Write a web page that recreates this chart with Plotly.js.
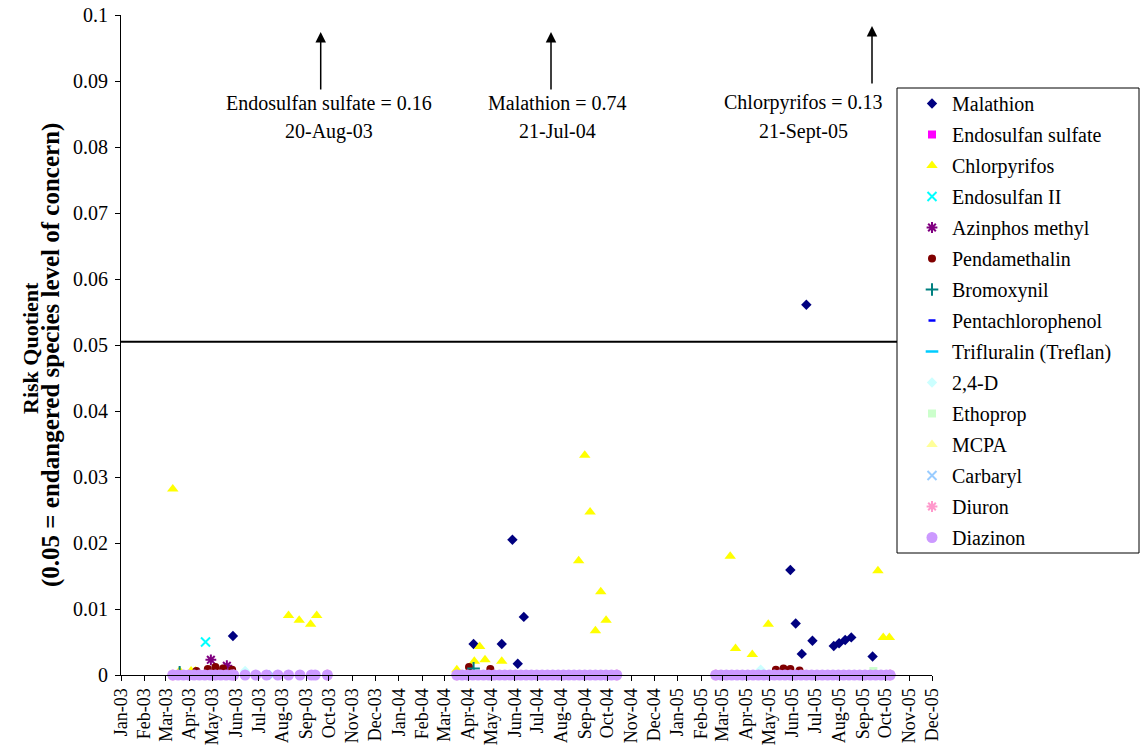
<!DOCTYPE html>
<html>
<head>
<meta charset="utf-8">
<script src="https://cdn.plot.ly/plotly-3.0.1.min.js"></script>
<style>html,body{margin:0;padding:0;background:#fff}#chart{width:1140px;height:752px}</style>
</head>
<body>
<div id="chart"></div>
<script>
// ---------- DATA ----------
const monthTicks = ['2003-01-01','2003-02-01','2003-03-01','2003-04-01','2003-05-01','2003-06-01','2003-07-01','2003-08-01','2003-09-01','2003-10-01','2003-11-01','2003-12-01',
  '2004-01-01','2004-02-01','2004-03-01','2004-04-01','2004-05-01','2004-06-01','2004-07-01','2004-08-01','2004-09-01','2004-10-01','2004-11-01','2004-12-01',
  '2005-01-01','2005-02-01','2005-03-01','2005-04-01','2005-05-01','2005-06-01','2005-07-01','2005-08-01','2005-09-01','2005-10-01','2005-11-01','2005-12-01'];
const monthLabels = ['Jan-03','Feb-03','Mar-03','Apr-03','May-03','Jun-03','Jul-03','Aug-03','Sep-03','Oct-03','Nov-03','Dec-03',
  'Jan-04','Feb-04','Mar-04','Apr-04','May-04','Jun-04','Jul-04','Aug-04','Sep-04','Oct-04','Nov-04','Dec-04',
  'Jan-05','Feb-05','Mar-05','Apr-05','May-05','Jun-05','Jul-05','Aug-05','Sep-05','Oct-05','Nov-05','Dec-05'];

const malathionDates = ['2003-05-28','2004-04-08','2004-05-15','2004-05-29','2004-06-05','2004-06-13',
  '2005-05-29','2005-06-05','2005-06-13','2005-06-19','2005-06-27','2005-07-25','2005-08-01','2005-08-09','2005-08-17','2005-09-14'];
const malathionRQ = [0.0059,0.0047,0.0047,0.0205,0.0017,0.0088,
  0.0159,0.0078,0.0032,0.0561,0.0052,0.0044,0.0048,0.0053,0.0057,0.0028];

const endosulfanSulfateDates = ['2003-05-05','2004-05-05','2005-05-05'];
const endosulfanSulfateRQ = [0,0,0];

const chlorpyrifosDates = ['2003-03-10','2003-03-19','2003-04-03','2003-04-09','2003-08-09','2003-08-23','2003-09-07','2003-09-15',
  '2004-03-17','2004-04-09','2004-04-16','2004-04-23','2004-05-15','2004-08-24','2004-09-01','2004-09-08','2004-09-15','2004-09-22','2004-09-29',
  '2005-03-11','2005-03-18','2005-04-09','2005-04-30','2005-09-21','2005-09-28','2005-10-06'];
const chlorpyrifosRQ = [0.0282,0.0006,0.0006,0.0006,0.0090,0.0083,0.0077,0.0090,
  0.0008,0.0021,0.0043,0.0023,0.0021,0.0173,0.0333,0.0247,0.0067,0.0126,0.0083,
  0.0180,0.0040,0.0031,0.0077,0.0158,0.0057,0.0057];

const endosulfanIIDates = ['2003-04-22'];
const endosulfanIIRQ = [0.0050];

const azinphosDates = ['2003-04-29','2003-05-20'];
const azinphosRQ = [0.0023,0.0014];

const pendamethalinDates = ['2003-04-10','2003-04-25','2003-05-05','2003-05-15','2003-05-27','2004-04-02','2004-04-30',
  '2005-05-10','2005-05-20','2005-05-29','2005-06-10'];
const pendamethalinRQ = [0.0006,0.0009,0.0012,0.0010,0.0008,0.0012,0.0009,0.0008,0.0010,0.0009,0.0007];

const bromoxynilDates = ['2003-03-19','2004-04-08'];
const bromoxynilRQ = [0.0004,0.0010];

const pentachlorophenolDates = ['2004-06-10'];
const pentachlorophenolRQ = [0];

const trifluralinDates = ['2005-06-10'];
const trifluralinRQ = [0];

const d24Dates = ['2003-06-13','2005-04-20'];
const d24RQ = [0.0006,0.0008];

const ethopropDates = ['2005-09-15'];
const ethopropRQ = [0.0006];

const mcpaDates = ['2004-05-20'];
const mcpaRQ = [0];

const carbarylDates = ['2003-07-20'];
const carbarylRQ = [0];

const diuronDates = ['2003-03-10','2003-05-29','2003-09-29','2004-03-17','2004-10-13','2005-02-20','2005-10-07'];
const diuronRQ = [0,0,0,0,0,0,0];

const diazinonDates = ['2003-03-10','2003-03-17','2003-03-24','2003-03-31','2003-04-07','2003-04-14','2003-04-21','2003-04-28','2003-05-05','2003-05-12','2003-05-19','2003-05-26','2003-05-29',
  '2003-06-13','2003-06-27','2003-07-11','2003-07-26','2003-08-09','2003-08-24','2003-09-08','2003-09-13','2003-09-29',
  '2004-03-17','2004-03-24','2004-03-31','2004-04-07','2004-04-14','2004-04-21','2004-04-28','2004-05-05','2004-05-12','2004-05-19','2004-05-26','2004-06-02','2004-06-09','2004-06-16','2004-06-23','2004-06-30',
  '2004-07-07','2004-07-14','2004-07-21','2004-07-28','2004-08-04','2004-08-11','2004-08-18','2004-08-25','2004-09-01','2004-09-08','2004-09-15','2004-09-22','2004-09-29','2004-10-06','2004-10-13',
  '2005-02-20','2005-02-27','2005-03-06','2005-03-13','2005-03-20','2005-03-27','2005-04-03','2005-04-10','2005-04-17','2005-04-24','2005-05-01','2005-05-08','2005-05-15','2005-05-22','2005-05-29',
  '2005-06-05','2005-06-12','2005-06-19','2005-06-26','2005-07-03','2005-07-10','2005-07-17','2005-07-24','2005-07-31','2005-08-07','2005-08-14','2005-08-21','2005-08-28','2005-09-04','2005-09-11','2005-09-18','2005-09-25','2005-10-02','2005-10-07'];
const diazinonRQ = diazinonDates.map(() => 0);

const concernLevel = 0.0505;
const yTitleLines = ['Risk Quotient', '(0.05 = endangered species level of concern)'];
const offScaleNotes = [
  {line1: 'Endosulfan sulfate = 0.16', line2: '20-Aug-03'},
  {line1: 'Malathion = 0.74', line2: '21-Jul-04'},
  {line1: 'Chlorpyrifos = 0.13', line2: '21-Sept-05'}
];

// ---------- CHART ----------
const FONT = 'Liberation Serif';
function tr(name, x, y, marker) {
  return {type: 'scatter', mode: 'markers', name: name, x: x, y: y, marker: marker,
          cliponaxis: false, legendgroup: name, hoverinfo: 'x+y+name'};
}
const traces = [
  tr('Malathion', malathionDates, malathionRQ, {symbol: 'diamond', color: '#000080', size: 8}),
  tr('Endosulfan sulfate', endosulfanSulfateDates, endosulfanSulfateRQ, {symbol: 'square', color: '#FF00FF', size: 8}),
  tr('Chlorpyrifos', chlorpyrifosDates, chlorpyrifosRQ, {symbol: 'triangle-up', color: '#FFFF00', size: 10}),
  tr('Endosulfan II', endosulfanIIDates, endosulfanIIRQ, {symbol: 'x-thin-open', color: '#00FFFF', size: 9, line: {color: '#00FFFF', width: 2}}),
  tr('Azinphos methyl', azinphosDates, azinphosRQ, {symbol: 'asterisk-open', color: '#800080', size: 9, line: {color: '#800080', width: 2}}),
  tr('Pendamethalin', pendamethalinDates, pendamethalinRQ, {symbol: 'circle', color: '#800000', size: 8}),
  tr('Bromoxynil', bromoxynilDates, bromoxynilRQ, {symbol: 'cross-thin-open', color: '#008080', size: 9, line: {color: '#008080', width: 2}}),
  tr('Pentachlorophenol', pentachlorophenolDates, pentachlorophenolRQ, {symbol: 'line-ew-open', color: '#0000FF', size: 5, line: {color: '#0000FF', width: 2.5}}),
  tr('Trifluralin (Treflan)', trifluralinDates, trifluralinRQ, {symbol: 'line-ew-open', color: '#00CCFF', size: 9, line: {color: '#00CCFF', width: 2.5}}),
  tr('2,4-D', d24Dates, d24RQ, {symbol: 'diamond', color: '#CCFFFF', size: 8}),
  tr('Ethoprop', ethopropDates, ethopropRQ, {symbol: 'square', color: '#CCFFCC', size: 8}),
  tr('MCPA', mcpaDates, mcpaRQ, {symbol: 'triangle-up', color: '#FFFF99', size: 10}),
  tr('Carbaryl', carbarylDates, carbarylRQ, {symbol: 'x-thin-open', color: '#99CCFF', size: 9, line: {color: '#99CCFF', width: 2}}),
  tr('Diuron', diuronDates, diuronRQ, {symbol: 'asterisk-open', color: '#FF99CC', size: 9, line: {color: '#FF99CC', width: 2}}),
  tr('Diazinon', diazinonDates, diazinonRQ, {symbol: 'circle', color: '#CC99FF', size: 11})
];

const W = 1140, H = 752, L = 121, R = 208, T = 15, B = 77;
const pw = W - L - R, ph = H - T - B;
const px = v => (v - L) / pw;
const py = v => (H - B - v) / ph;

const arrowX = [320.7, 551, 872];
const arrowTip = [32, 32, 26];
const noteX = [329, 557, 803.5];
const annotations = [];
offScaleNotes.forEach((n, i) => {
  annotations.push({xref: 'paper', yref: 'paper', x: px(arrowX[i]), y: py(arrowTip[i]), text: '',
    showarrow: true, arrowhead: 2, arrowsize: 1.4, arrowwidth: 1.5, arrowcolor: '#000', ax: 0, ay: 59});
  annotations.push({xref: 'paper', yref: 'paper', x: px(noteX[i]), y: py(103), text: n.line1, showarrow: false,
    font: {family: FONT, size: 20, color: '#000'}, xanchor: 'center', yanchor: 'middle'});
  annotations.push({xref: 'paper', yref: 'paper', x: px(noteX[i]), y: py(131), text: n.line2, showarrow: false,
    font: {family: FONT, size: 20, color: '#000'}, xanchor: 'center', yanchor: 'middle'});
});
// y-axis title, two lines
annotations.push({xref: 'paper', yref: 'paper', x: px(30), y: py(348), text: yTitleLines[0], textangle: -90, showarrow: false,
  font: {family: FONT, size: 22, color: '#000', weight: 'bold'}, xanchor: 'center', yanchor: 'middle'});
annotations.push({xref: 'paper', yref: 'paper', x: px(51), y: py(355), text: yTitleLines[1], textangle: -90, showarrow: false,
  font: {family: FONT, size: 25, color: '#000', weight: 'bold'}, xanchor: 'center', yanchor: 'middle'});

const layout = {
  width: W, height: H,
  margin: {l: L, r: R, t: T, b: B},
  paper_bgcolor: '#fff', plot_bgcolor: '#fff',
  font: {family: FONT, color: '#000', size: 20},
  showlegend: true,
  legend: {x: px(912), y: py(84), xanchor: 'left', yanchor: 'top', bgcolor: 'rgba(0,0,0,0)', borderwidth: 0,
    font: {family: FONT, size: 20, color: '#000'}, traceorder: 'grouped', tracegroupgap: 2},
  xaxis: {type: 'date', range: ['2003-01-01', '2005-12-01'], tickvals: monthTicks, ticktext: monthLabels,
    tickangle: -90, ticks: 'outside', ticklen: 5, tickcolor: '#000', showline: true, linecolor: '#000', linewidth: 1,
    showgrid: false, zeroline: false, tickfont: {family: FONT, size: 18, color: '#000'}, fixedrange: true},
  yaxis: {range: [0, 0.1], dtick: 0.01, tick0: 0, ticks: 'outside', ticklen: 5, tickcolor: '#000', showline: true,
    linecolor: '#000', linewidth: 1, showgrid: false, zeroline: false, ticklabelstandoff: 3,
    tickfont: {family: FONT, size: 20, color: '#000'}},
  shapes: [
    {type: 'line', xref: 'paper', yref: 'y', x0: 0, x1: 1, y0: concernLevel, y1: concernLevel, line: {color: '#000', width: 2}},
    {type: 'rect', xref: 'paper', yref: 'paper', x0: px(897), x1: px(1139), y0: py(553), y1: py(88),
      fillcolor: '#fff', line: {color: '#000', width: 1}, layer: 'above'}
  ],
  annotations: annotations
};
Plotly.newPlot('chart', traces, layout, {displayModeBar: false, staticPlot: true});
</script>
</body>
</html>
